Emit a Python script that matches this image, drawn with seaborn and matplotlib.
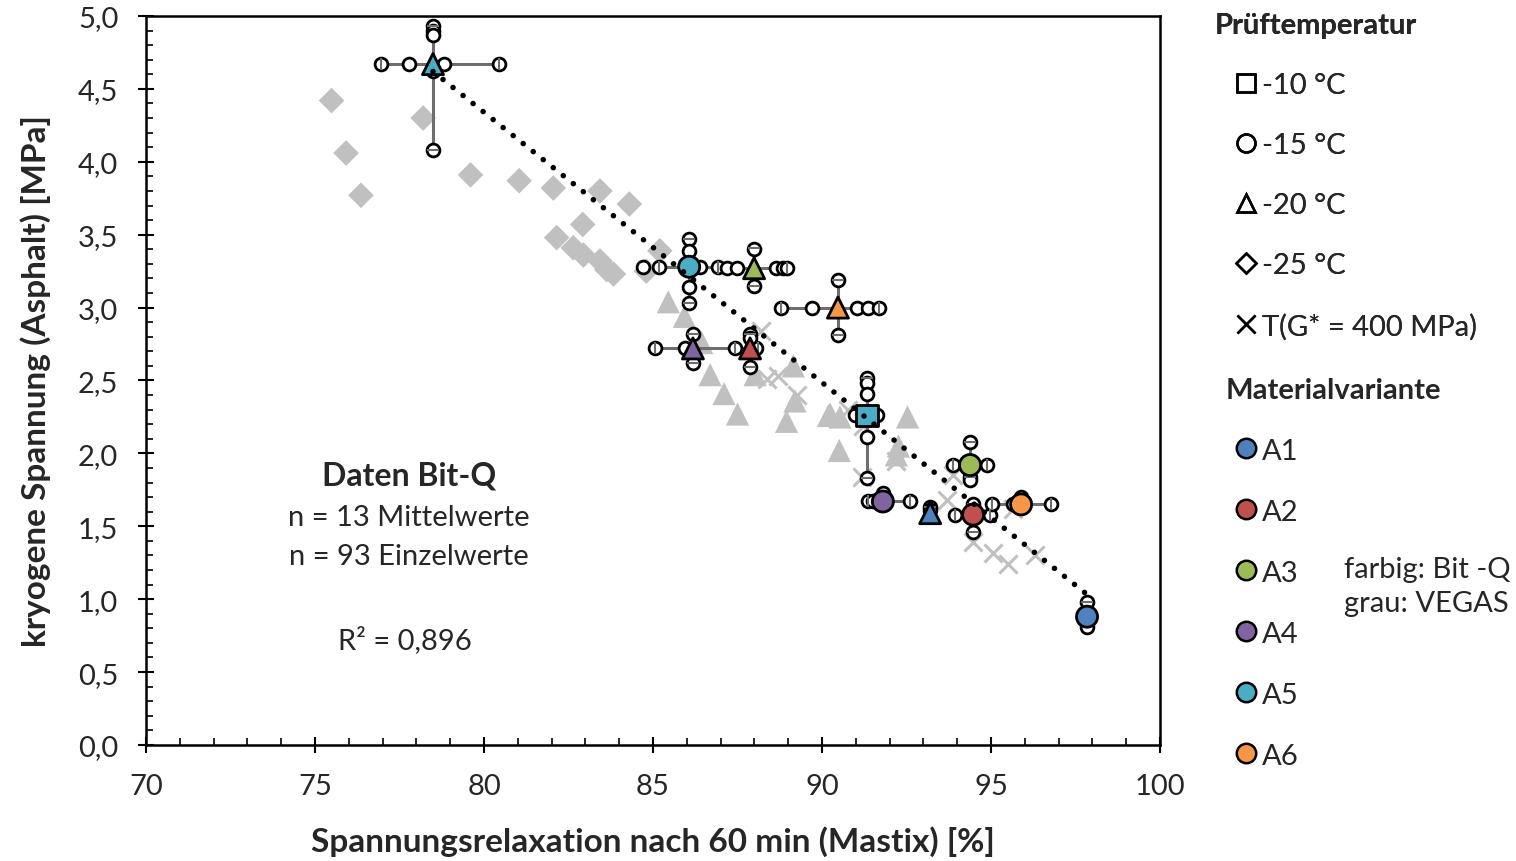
import numpy as np
import pandas as pd
import matplotlib
matplotlib.use("Agg")
import matplotlib.pyplot as plt
from matplotlib.lines import Line2D
from matplotlib.ticker import MultipleLocator, FuncFormatter
import seaborn as sns

# --------------------------- Mittelwerte Bit-Q ---------------------------
mean_var = ["A5", "A5", "A3", "A6", "A4", "A2", "A5", "A3", "A4", "A1", "A2", "A6", "A1"]
mean_temp = ["-20 °C", "-15 °C", "-20 °C", "-20 °C", "-20 °C", "-20 °C", "-10 °C",
             "-15 °C", "-15 °C", "-20 °C", "-15 °C", "-15 °C", "-15 °C"]
mean_x = [78.49, 86.07, 87.99, 90.47, 86.18, 87.87, 91.33, 94.38, 91.80, 93.20, 94.47, 95.89, 97.84]
mean_y = [4.67, 3.28, 3.27, 3.00, 2.72, 2.72, 2.26, 1.92, 1.67, 1.59, 1.58, 1.65, 0.88]

# Fehlerbalken (min / max)
x_lo = [76.95, 85.19, 86.93, 88.80, 85.06, 87.43, 91.33, 93.88, 91.37, 93.20, 93.93, 95.02, 97.84]
x_hi = [80.44, 86.93, 88.95, 91.69, 87.43, 88.10, 91.33, 94.87, 92.60, 93.20, 94.97, 96.78, 97.84]
y_lo = [4.08, 3.03, 3.15, 2.81, 2.62, 2.59, 1.83, 1.84, 1.67, 1.59, 1.46, 1.65, 0.82]
y_hi = [4.93, 3.47, 3.41, 3.19, 2.82, 2.82, 2.52, 2.08, 1.73, 1.63, 1.65, 1.70, 0.98]

# Einzelwerte (Index der Gruppe, Wert) - horizontal (x bei Mittelwert y)
einzel_h_grp = [0, 0, 0, 0, 1, 1, 1, 1, 2, 2, 2, 2, 2, 3, 3, 3, 3, 3, 4, 4, 4,
                5, 6, 6, 7, 7, 8, 8, 8, 10, 10, 11, 11, 11]
einzel_h_x = [76.95, 77.78, 78.82, 80.44, 84.71, 85.19, 86.39, 86.93, 87.20, 87.49, 88.65, 88.85, 88.95,
              88.80, 89.69, 91.02, 91.37, 91.69, 85.06, 85.95, 87.43,
              88.06, 90.98, 91.62, 93.88, 94.87, 91.37, 91.50, 92.60, 93.93, 94.97, 95.02, 96.78, 95.64]
# vertikal (y bei Mittelwert x)
einzel_v_grp = [0, 0, 0, 0, 0, 1, 1, 1, 1, 2, 2, 3, 3, 4, 4, 5, 5, 5,
                6, 6, 6, 6, 6, 7, 7, 7, 8, 9, 9, 10, 10, 11, 12, 12]
einzel_v_y = [4.93, 4.90, 4.87, 4.62, 4.08, 3.47, 3.39, 3.14, 3.03, 3.40, 3.15, 3.19, 2.81, 2.82, 2.62,
              2.82, 2.79, 2.59, 2.52, 2.48, 2.41, 2.11, 1.83, 2.08, 1.84, 1.82, 1.73, 1.63, 1.61,
              1.65, 1.46, 1.70, 0.98, 0.81]

# --------------------------- Daten VEGAS (grau) ---------------------------
vegas_d_x = [75.49, 78.20, 75.92, 76.36, 79.60, 81.04, 82.05, 83.43, 84.30, 82.92, 82.15, 82.64,
             82.94, 83.43, 83.63, 83.83, 85.20, 84.80]
vegas_d_y = [4.42, 4.30, 4.06, 3.77, 3.91, 3.87, 3.82, 3.80, 3.71, 3.57, 3.48, 3.41,
             3.36, 3.32, 3.26, 3.23, 3.39, 3.25]
vegas_t_x = [85.45, 85.93, 86.44, 86.69, 87.10, 87.50, 88.02, 89.15, 89.20, 88.95, 90.24, 90.53,
             90.19, 92.53, 90.51, 92.26, 92.20]
vegas_t_y = [3.04, 2.94, 2.76, 2.54, 2.41, 2.27, 2.54, 2.60, 2.36, 2.22, 2.27, 2.25,
             2.26, 2.25, 2.02, 2.05, 1.99]
vegas_x_x = [88.20, 88.71, 89.25, 90.78, 91.22, 92.20, 91.17, 93.88, 93.69, 95.66, 94.47, 95.07,
             95.51, 96.30, 88.37]
vegas_x_y = [2.84, 2.53, 2.40, 2.30, 2.19, 1.95, 1.84, 1.85, 1.68, 1.62, 1.39, 1.32,
             1.24, 1.30, 2.51]

farben = {"A1": "#4F81BD", "A2": "#C0504D", "A3": "#9BBB59",
          "A4": "#8064A2", "A5": "#4BACC6", "A6": "#F79646"}
marker_temp = {"-10 °C": "s", "-15 °C": "o", "-20 °C": "^"}

df_mean = pd.DataFrame({"x": mean_x, "y": mean_y, "var": mean_var, "temp": mean_temp})
df_h = pd.DataFrame({"x": einzel_h_x, "y": [mean_y[g] for g in einzel_h_grp]})
df_v = pd.DataFrame({"x": [mean_x[g] for g in einzel_v_grp], "y": einzel_v_y})
df_einzel = pd.concat([df_h, df_v], ignore_index=True)
df_vegas = pd.concat([
    pd.DataFrame({"x": vegas_d_x, "y": vegas_d_y, "typ": "D"}),
    pd.DataFrame({"x": vegas_t_x, "y": vegas_t_y, "typ": "T"}),
    pd.DataFrame({"x": vegas_x_x, "y": vegas_x_y, "typ": "X"}),
], ignore_index=True)

sns.set_style("ticks")
plt.rcParams["font.family"] = ["Lato", "DejaVu Sans"]

fig, ax = plt.subplots(figsize=(15.16, 8.62), dpi=100)
fig.subplots_adjust(left=0.0963, right=0.7652, bottom=0.1346, top=0.9803)

# graue Punkte VEGAS
sns.scatterplot(data=df_vegas[df_vegas["typ"] == "D"], x="x", y="y", marker="D", s=170,
                color="#C0C0C0", edgecolor="none", ax=ax, legend=False, zorder=1)
sns.scatterplot(data=df_vegas[df_vegas["typ"] == "T"], x="x", y="y", marker="^", s=280,
                color="#C0C0C0", edgecolor="none", ax=ax, legend=False, zorder=1)
sns.scatterplot(data=df_vegas[df_vegas["typ"] == "X"], x="x", y="y", marker="x", s=170,
                color="#C0C0C0", linewidth=2.2, ax=ax, legend=False, zorder=1)

# Fehlerbalken
mx = np.array(mean_x)
my = np.array(mean_y)
xerr = [mx - np.array(x_lo), np.array(x_hi) - mx]
yerr = [my - np.array(y_lo), np.array(y_hi) - my]
eb = ax.errorbar(mx, my, xerr=xerr, yerr=yerr, fmt="none", ecolor="#6E6E6E",
                 elinewidth=2.2, capsize=4, capthick=1.5, zorder=2)
for cl in eb[1]:
    cl.set_zorder(4)

# Einzelwerte
sns.scatterplot(data=df_einzel, x="x", y="y", marker="o", s=85, color="white",
                edgecolor="black", linewidth=2, ax=ax, legend=False, zorder=3)

# Trendlinie (linear)
sns.regplot(data=df_mean, x="x", y="y", scatter=False, ci=None, truncate=True, ax=ax,
            line_kws=dict(color="black", linewidth=4, linestyle=(0, (0.01, 2.3)),
                          dash_capstyle="round", zorder=6))

# Mittelwerte
sns.scatterplot(data=df_mean, x="x", y="y", hue="var", style="temp", palette=farben,
                markers=marker_temp, s=230, edgecolor="black", linewidth=2, ax=ax,
                legend=False, zorder=5)

ax.set_xlim(70, 100)
ax.set_ylim(0, 5)
ax.xaxis.set_major_locator(MultipleLocator(5))
ax.xaxis.set_minor_locator(MultipleLocator(1))
ax.yaxis.set_major_locator(MultipleLocator(0.5))
ax.yaxis.set_minor_locator(MultipleLocator(0.1))
ax.yaxis.set_major_formatter(FuncFormatter(lambda v, p: f"{v:.1f}".replace(".", ",")))
ax.xaxis.set_major_formatter(FuncFormatter(lambda v, p: f"{v:.0f}"))
ax.tick_params(which="major", direction="inout", length=12, width=1.5, labelsize=21,
               color="black", pad=14)
ax.tick_params(which="minor", direction="in", length=5, width=1.2, color="black")
for sp in ax.spines.values():
    sp.set_visible(True)
    sp.set_linewidth(1.8)
    sp.set_color("black")

ax.set_xlabel("Spannungsrelaxation nach 60 min (Mastix) [%]", fontsize=24, fontweight="bold", labelpad=19)
ax.set_ylabel("kryogene Spannung (Asphalt) [MPa]", fontsize=24, fontweight="bold", labelpad=19)

# Beschriftung im Diagramm
ax.text(0.259, 0.370, "Daten Bit-Q", transform=ax.transAxes, ha="center", va="center",
        fontsize=23, fontweight="bold")
ax.text(0.259, 0.313, "n = 13 Mittelwerte", transform=ax.transAxes, ha="center", va="center", fontsize=21)
ax.text(0.259, 0.259, "n = 93 Einzelwerte", transform=ax.transAxes, ha="center", va="center", fontsize=21)
ax.text(0.255, 0.145, "R² = 0,896", transform=ax.transAxes, ha="center", va="center", fontsize=21)

# Legenden
temp_handles = [
    Line2D([], [], marker="s", ls="none", mfc="none", mec="black", mew=1.8, ms=13),
    Line2D([], [], marker="o", ls="none", mfc="none", mec="black", mew=1.8, ms=13),
    Line2D([], [], marker="^", ls="none", mfc="none", mec="black", mew=1.8, ms=13),
    Line2D([], [], marker="D", ls="none", mfc="none", mec="black", mew=1.8, ms=10),
    Line2D([], [], marker="x", ls="none", mfc="none", mec="black", mew=1.8, ms=13),
]
temp_labels = ["-10 °C", "-15 °C", "-20 °C", "-25 °C", "T(G* = 400 MPa)"]
leg1 = fig.legend(temp_handles, temp_labels, title="Prüftemperatur", loc="upper left",
                  bbox_to_anchor=(0.8014, 0.985), frameon=False, fontsize=21, borderpad=0,
                  borderaxespad=0, title_fontproperties={"weight": "bold", "size": 21},
                  labelspacing=1.17, handlelength=2.1, handletextpad=-0.5, alignment="left")

var_handles = [Line2D([], [], marker="o", ls="none", mfc=farben[v], mec="black", mew=1.8, ms=14)
               for v in farben]
leg2 = fig.legend(var_handles, list(farben.keys()), title="Materialvariante", loc="upper left",
                  bbox_to_anchor=(0.8087, 0.562), frameon=False, fontsize=21, borderpad=0,
                  borderaxespad=0, title_fontproperties={"weight": "bold", "size": 21},
                  labelspacing=1.2, handlelength=1.4, handletextpad=-0.16, alignment="left")
fig.add_artist(leg1)

fig.text(0.8866, 0.319, "farbig: Bit -Q\ngrau: VEGAS", ha="left", va="center", fontsize=21,
         linespacing=1.35)

fig.savefig("out.png", dpi=100)
